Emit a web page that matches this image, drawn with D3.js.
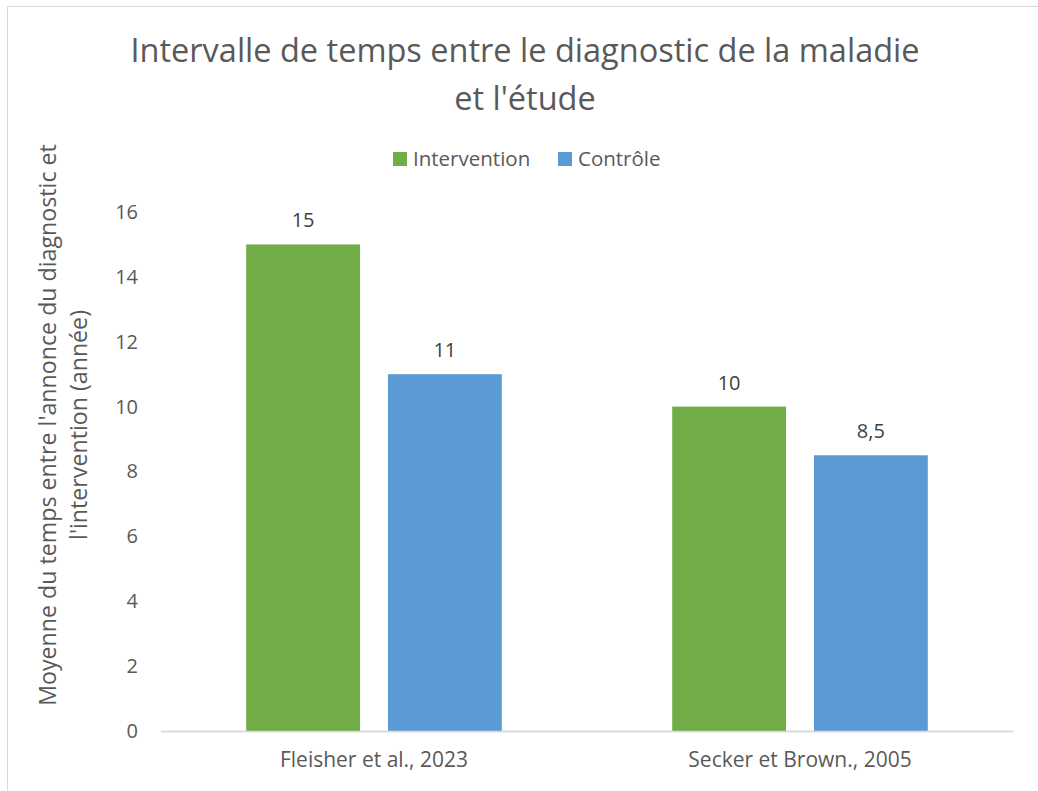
<!DOCTYPE html>
<html>
<head>
<meta charset="utf-8">
<script src="https://cdn.jsdelivr.net/npm/d3@7"></script>
<style>
    body { margin: 0; background: #fff; }
    svg { display: block; font-family: "Open Sans", "Noto Sans", sans-serif; }
    .axis text { fill: #595959; }
</style>
</head>
<body>
<svg id="chart"></svg>
<script>
const categories = ["Fleisher et al., 2023", "Secker et Brown., 2005"];
const seriesNames = ["Intervention", "Contrôle"];
const interventionValues = [15, 10];
const controleValues = [11, 8.5];
const valueLabels = [["15", "11"], ["10", "8,5"]];
const yTicks = [0, 2, 4, 6, 8, 10, 12, 14, 16];
const colors = ["#70AD47", "#5B9BD5"];

const totalWidth = 1038,
    totalHeight = 791;

const margin = { top: 212, right: 25, bottom: 60, left: 161 },
    plotBottom = 731,
    plotRight = 1013;

const fontFamily = '"Open Sans", "Noto Sans", sans-serif';

const svg = d3.select("#chart")
    .attr("width", totalWidth)
    .attr("height", totalHeight);

// outer chart frame (cut at right and bottom in the reference)
svg.append("rect")
    .attr("x", 7.5)
    .attr("y", 6.5)
    .attr("width", 1100)
    .attr("height", 900)
    .attr("fill", "none")
    .attr("stroke", "#d9d9d9");

const x0 = d3.scaleBand()
    .domain(categories)
    .range([margin.left, plotRight])
    .paddingInner(0.4)
    .paddingOuter(0.2);

const x1 = d3.scaleBand()
    .domain(seriesNames)
    .range([0, x0.bandwidth()])
    .paddingInner(0.197);

const y = d3.scaleLinear()
    .domain([0, 16])
    .range([plotBottom, margin.top]);

// Title
svg.append("text")
    .attr("x", 525)
    .attr("text-anchor", "middle")
    .style("font-size", "32.5px")
    .style("fill", "#595959")
    .selectAll("tspan")
    .data(["Intervalle de temps entre le diagnostic de la maladie", "et l'étude"])
    .enter()
    .append("tspan")
    .attr("x", 525)
    .attr("y", (d, i) => 62 + i * 48)
    .text(d => d);

// Legend
const legendItems = [
    { name: seriesNames[0], x: 393 },
    { name: seriesNames[1], x: 558 }
];
const legend = svg.append("g").attr("class", "legend");
legendItems.forEach((item, i) => {
    legend.append("rect")
        .attr("x", item.x)
        .attr("y", 152)
        .attr("width", 14)
        .attr("height", 14)
        .attr("fill", colors[i]);
    legend.append("text")
        .attr("x", item.x + 20)
        .attr("y", 159)
        .attr("dy", "0.35em")
        .style("font-size", "20.5px")
        .style("fill", "#595959")
        .text(item.name);
});

// Y axis (labels only)
const yAxis = svg.append("g")
    .attr("class", "axis axis-y")
    .attr("transform", "translate(" + margin.left + ",0)")
    .call(d3.axisLeft(y).tickValues(yTicks).tickSize(0).tickPadding(23).tickFormat(d3.format("d")));
yAxis.attr("font-family", fontFamily);
yAxis.select(".domain").remove();
yAxis.selectAll("text").style("font-size", "20px");

// Y axis title
svg.append("text")
    .attr("transform", "translate(0,425) rotate(-90)")
    .attr("text-anchor", "middle")
    .style("font-size", "23.2px")
    .style("fill", "#595959")
    .selectAll("tspan")
    .data(["Moyenne du temps entre l'annonce du diagnostic et", "l'intervention (année)"])
    .enter()
    .append("tspan")
    .attr("x", 0)
    .attr("y", (d, i) => 56 + i * 31)
    .text(d => d);

// X axis
const xAxis = svg.append("g")
    .attr("class", "axis axis-x")
    .attr("transform", "translate(0," + plotBottom + ")")
    .call(d3.axisBottom(x0).tickSize(0).tickPadding(21));
xAxis.attr("font-family", fontFamily);
xAxis.select(".domain")
    .attr("stroke", "#d9d9d9")
    .attr("stroke-width", 1.3);
xAxis.selectAll("text").style("font-size", "21px");

// Bars
const rows = categories.map((c, i) => ({
    category: c,
    values: [
        { series: seriesNames[0], value: interventionValues[i], label: valueLabels[i][0] },
        { series: seriesNames[1], value: controleValues[i], label: valueLabels[i][1] }
    ]
}));

const group = svg.selectAll(".group")
    .data(rows)
    .enter()
    .append("g")
    .attr("class", "group")
    .attr("transform", d => "translate(" + x0(d.category) + ",0)");

group.selectAll("rect")
    .data(d => d.values)
    .enter()
    .append("rect")
    .attr("x", d => x1(d.series))
    .attr("y", d => y(d.value))
    .attr("width", x1.bandwidth())
    .attr("height", d => plotBottom - y(d.value))
    .attr("fill", (d, i) => colors[i]);

group.selectAll(".value-label")
    .data(d => d.values)
    .enter()
    .append("text")
    .attr("class", "value-label")
    .attr("x", d => x1(d.series) + x1.bandwidth() / 2)
    .attr("y", d => y(d.value) - 24)
    .attr("dy", "0.35em")
    .attr("text-anchor", "middle")
    .style("font-size", "20px")
    .style("fill", "#404040")
    .text(d => d.label);

// redraw baseline above bars
svg.append("line")
    .attr("x1", margin.left)
    .attr("x2", plotRight)
    .attr("y1", plotBottom + 0.5)
    .attr("y2", plotBottom + 0.5)
    .attr("stroke", "#d9d9d9")
    .attr("stroke-width", 1.3);
</script>
</body>
</html>
